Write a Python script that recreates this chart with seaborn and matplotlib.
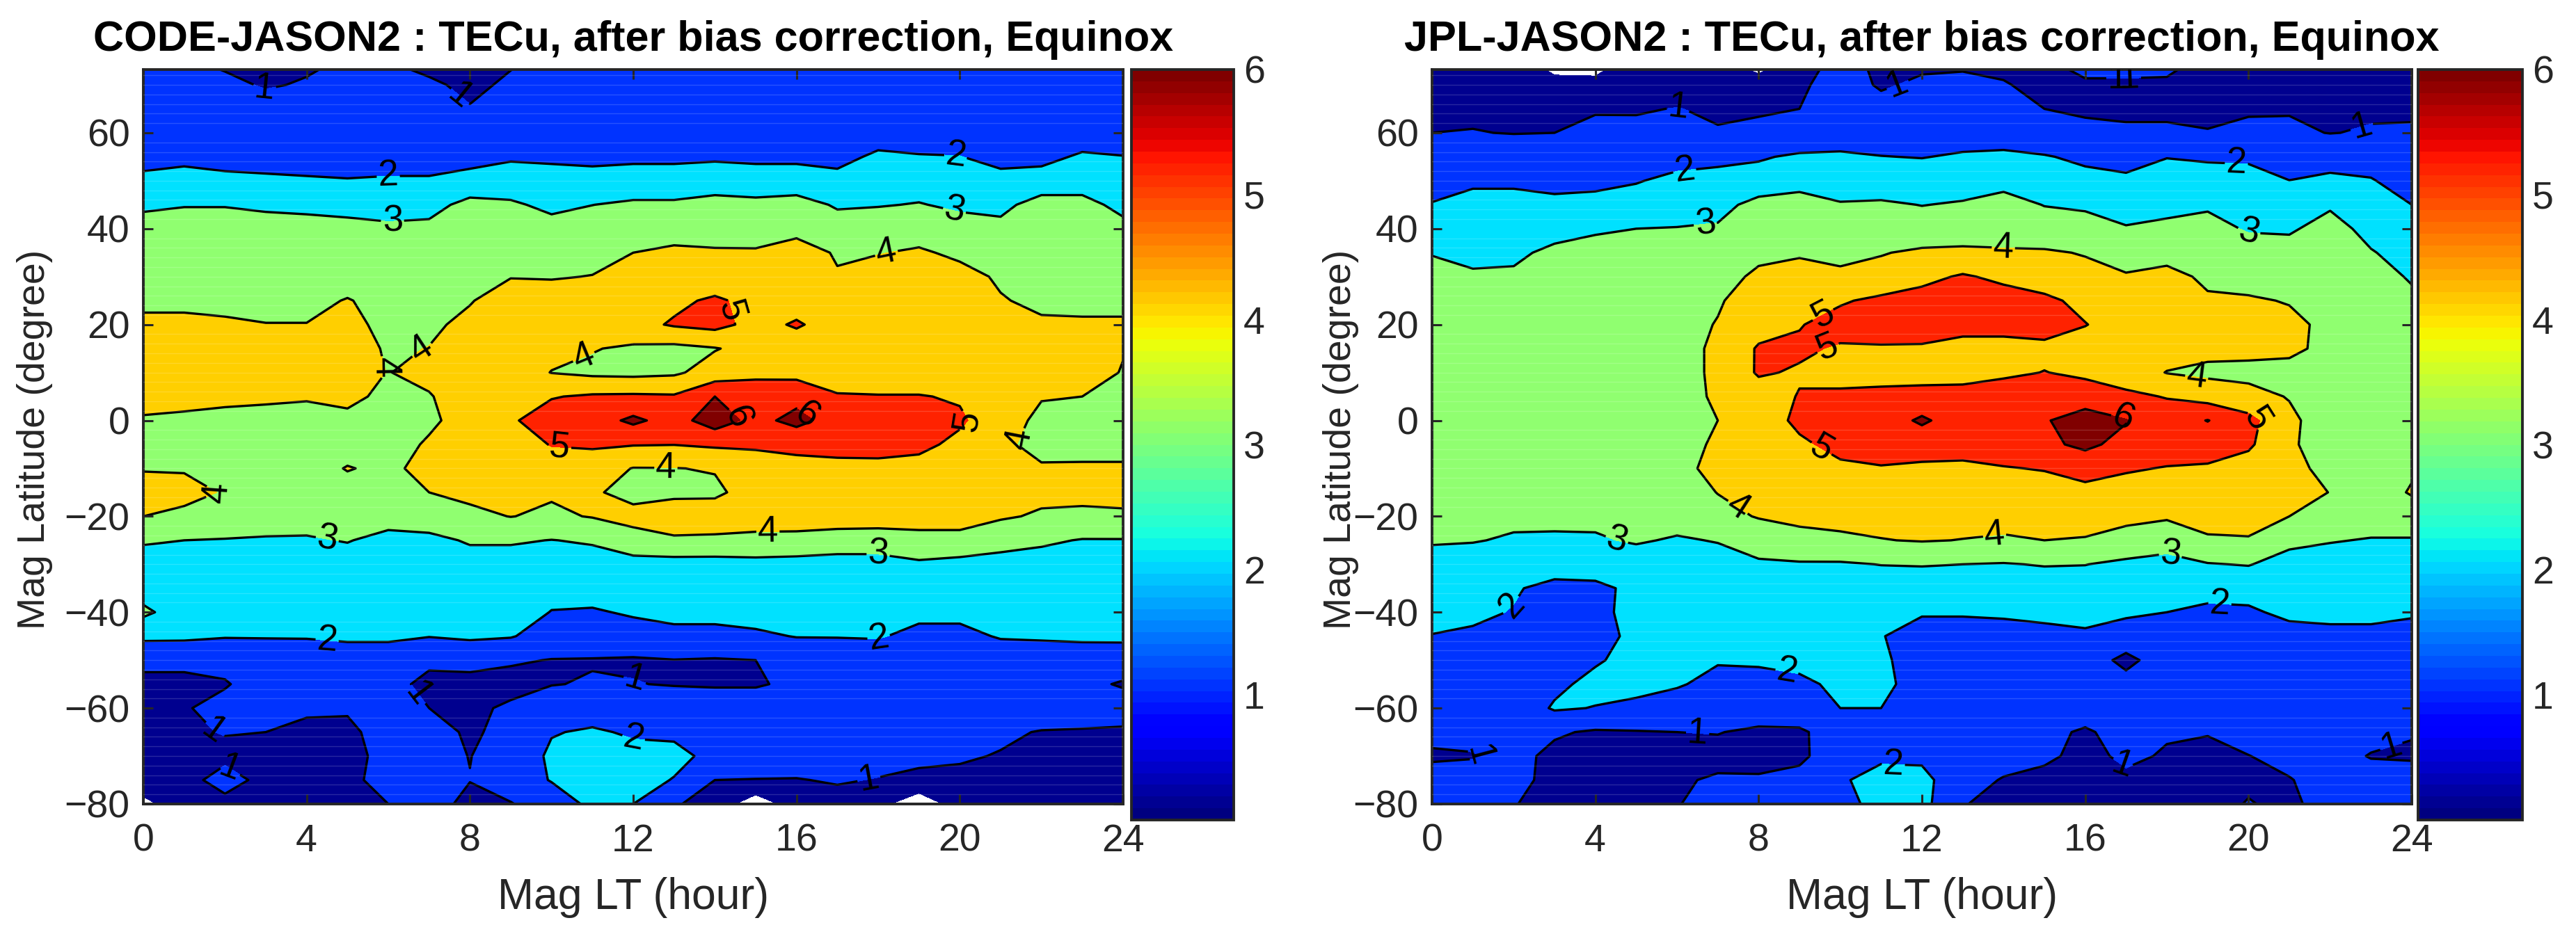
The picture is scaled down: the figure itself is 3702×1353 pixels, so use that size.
import numpy as np
import matplotlib
matplotlib.use("Agg")
import matplotlib.pyplot as plt
from matplotlib.cm import ScalarMappable
from matplotlib.colors import ListedColormap, BoundaryNorm
from matplotlib.ticker import MultipleLocator
import seaborn as sns

sns.set_style("white")
plt.rcParams['font.family'] = ['Liberation Sans', 'DejaVu Sans']

lt_hours = list(range(25))
mag_lat = [75, 70, 65, 60, 55, 50, 45, 40, 35, 30, 25, 20, 15, 10, 5, 0, -5, -10, -15, -20, -25, -30,
           -35, -40, -45, -50, -55, -60, -65, -70, -75, -80]

# one row per latitude (75 down to -80), one column per hour (0..24)
code_tec = [
    [1.3, 1.1, 0.8, 0.7, 0.8, 1.1, 1.0, 0.7, 0.6, 0.9, 1.2, 1.3, 1.3, 1.2, 0.8, 1.2, 1.3, 1.3, 1.3, 1.3, 1.3, 1.3, 1.3, 1.3, 1.3],
    [1.4, 1.4, 1.25, 0.9, 1.1, 1.4, 1.3, 1.15, 0.8, 1.15, 1.4, 1.4, 1.4, 1.4, 1.4, 1.4, 1.4, 1.4, 1.4, 1.4, 1.4, 1.4, 1.4, 1.4, 1.4],
    [1.5, 1.5, 1.5, 1.5, 1.5, 1.5, 1.45, 1.4, 1.05, 1.4, 1.5, 1.5, 1.5, 1.5, 1.5, 1.5, 1.5, 1.5, 1.5, 1.5, 1.5, 1.5, 1.5, 1.5, 1.5],
    [1.6, 1.6, 1.6, 1.6, 1.6, 1.6, 1.6, 1.6, 1.6, 1.6, 1.6, 1.6, 1.6, 1.6, 1.6, 1.6, 1.6, 1.6, 1.6, 1.6, 1.6, 1.6, 1.6, 1.6, 1.6],
    [1.7, 1.8, 1.7, 1.65, 1.6, 1.55, 1.6, 1.6, 1.75, 1.9, 1.85, 1.8, 1.85, 1.85, 1.9, 1.85, 1.85, 1.75, 2.15, 2.05, 2.02, 1.75, 1.8, 2.1, 2.02],
    [2.2, 2.3, 2.2, 2.15, 2.1, 2.05, 2.1, 2.1, 2.25, 2.4, 2.35, 2.3, 2.35, 2.35, 2.4, 2.35, 2.35, 2.25, 2.65, 2.55, 2.5, 2.25, 2.3, 2.6, 2.5],
    [2.82, 2.94, 2.94, 2.82, 2.76, 2.68, 2.58, 2.64, 3.32, 3.15, 2.76, 2.99, 3.16, 3.16, 3.4, 3.28, 3.43, 2.88, 2.94, 3.05, 2.82, 2.7, 3.47, 3.27, 2.76],
    [3.42, 3.54, 3.54, 3.42, 3.36, 3.28, 3.18, 3.24, 3.5, 3.45, 3.36, 3.45, 3.5, 3.55, 3.6, 3.55, 3.7, 3.48, 3.6, 3.65, 3.42, 3.3, 3.45, 3.4, 3.24],
    [3.5, 3.6, 3.6, 3.5, 3.45, 3.4, 3.35, 3.4, 3.7, 3.65, 3.6, 3.75, 4.0, 4.2, 4.1, 4.1, 4.45, 3.9, 3.97, 4.1, 3.85, 3.6, 3.55, 3.5, 3.4],
    [3.6, 3.65, 3.65, 3.6, 3.6, 3.6, 3.55, 3.6, 3.85, 3.97, 3.95, 4.02, 4.35, 4.5, 4.4, 4.45, 4.5, 4.08, 4.3, 4.45, 4.25, 3.9, 3.65, 3.6, 3.55],
    [3.75, 3.8, 3.8, 3.75, 3.75, 4.05, 3.7, 3.75, 3.95, 4.4, 4.35, 4.4, 4.6, 4.8, 5.15, 4.7, 4.6, 4.5, 4.5, 4.45, 4.3, 4.05, 3.85, 3.8, 3.8],
    [4.25, 4.2, 4.1, 4.02, 4.02, 4.25, 3.75, 3.85, 4.2, 4.5, 4.5, 4.5, 4.7, 5.1, 5.3, 4.7, 5.1, 4.6, 4.5, 4.45, 4.4, 4.25, 4.1, 4.1, 4.1],
    [4.3, 4.3, 4.35, 4.3, 4.5, 4.4, 3.9, 4.02, 4.3, 4.4, 4.2, 4.05, 3.85, 3.75, 3.95, 4.3, 4.5, 4.5, 4.5, 4.5, 4.5, 4.5, 4.4, 4.4, 4.05],
    [4.4, 4.4, 4.4, 4.4, 4.4, 4.3, 3.98, 4.2, 4.4, 4.4, 3.98, 3.8, 3.75, 3.85, 4.4, 4.75, 4.7, 4.5, 4.4, 4.4, 4.4, 4.4, 4.4, 4.4, 3.95],
    [4.35, 4.25, 4.2, 4.15, 4.1, 4.2, 3.8, 3.95, 4.4, 4.5, 4.95, 5.12, 5.15, 5.1, 6.0, 5.6, 5.7, 5.08, 5.05, 5.05, 4.9, 4.5, 4.05, 4.0, 3.85],
    [3.9, 3.85, 3.75, 3.7, 3.6, 3.8, 3.5, 3.85, 4.35, 4.9, 5.4, 5.55, 6.2, 5.6, 6.5, 5.7, 6.3, 5.6, 5.5, 5.4, 5.15, 4.4, 3.8, 3.7, 3.6],
    [3.8, 3.75, 3.7, 3.6, 3.6, 3.6, 3.65, 4.1, 4.4, 4.5, 5.05, 5.15, 5.05, 5.02, 5.15, 5.15, 5.2, 5.25, 5.35, 5.25, 4.75, 4.2, 3.7, 3.6, 3.6],
    [3.97, 3.95, 3.9, 3.6, 3.6, 4.05, 3.8, 4.3, 4.5, 4.5, 4.5, 4.4, 3.97, 3.98, 4.05, 4.5, 4.75, 4.8, 4.75, 4.65, 4.35, 4.1, 4.1, 4.15, 4.15],
    [4.2, 4.2, 3.95, 3.6, 3.6, 3.65, 3.8, 4.0, 4.2, 4.3, 4.1, 4.1, 3.75, 3.85, 3.85, 4.35, 4.6, 4.6, 4.55, 4.5, 4.4, 4.35, 4.2, 4.2, 4.2],
    [4.0, 3.85, 3.7, 3.5, 3.4, 3.4, 3.4, 3.55, 3.8, 4.02, 3.85, 4.05, 4.25, 4.4, 4.45, 4.45, 4.5, 4.5, 4.45, 4.4, 4.4, 4.1, 3.9, 3.85, 3.9],
    [3.1, 3.0, 2.95, 2.9, 2.9, 3.05, 2.7, 2.75, 3.1, 3.1, 2.98, 3.1, 3.7, 3.9, 3.85, 3.75, 3.7, 3.55, 3.55, 3.7, 3.7, 3.4, 3.15, 2.95, 2.95],
    [2.6, 2.6, 2.6, 2.55, 2.5, 2.55, 2.3, 2.4, 2.6, 2.6, 2.6, 2.6, 2.6, 2.6, 2.6, 2.7, 2.65, 2.6, 2.6, 2.85, 2.7, 2.6, 2.6, 2.6, 2.6],
    [2.55, 2.55, 2.55, 2.55, 2.5, 2.5, 2.5, 2.5, 2.55, 2.5, 2.3, 2.3, 2.4, 2.45, 2.45, 2.45, 2.5, 2.5, 2.5, 2.45, 2.45, 2.5, 2.55, 2.55, 2.55],
    [3.2, 2.5, 2.45, 2.45, 2.45, 2.5, 2.5, 2.45, 2.5, 2.45, 1.97, 1.93, 2.08, 2.2, 2.2, 2.3, 2.4, 2.4, 2.45, 2.18, 2.18, 2.45, 2.5, 2.5, 2.5],
    [2.2, 2.18, 2.06, 2.06, 2.06, 2.16, 2.16, 2.03, 2.16, 2.06, 1.6, 1.6, 1.7, 1.8, 1.8, 1.87, 2.03, 2.03, 2.06, 1.8, 1.8, 2.06, 2.1, 2.15, 2.16],
    [1.2, 1.2, 1.2, 1.4, 1.5, 1.5, 1.5, 1.15, 1.2, 1.1, 0.97, 0.95, 0.9, 0.98, 0.93, 1.0, 1.4, 1.55, 1.55, 1.55, 1.55, 1.55, 1.55, 1.55, 1.55],
    [0.8, 0.8, 0.95, 1.3, 1.4, 1.4, 1.25, 0.8, 0.8, 0.7, 0.97, 1.06, 1.03, 0.95, 0.9, 0.9, 1.2, 1.4, 1.4, 1.4, 1.4, 1.4, 1.4, 1.25, 0.9],
    [0.8, 0.95, 1.2, 1.45, 1.1, 1.1, 1.3, 1.0, 0.8, 1.15, 1.5, 1.6, 1.6, 1.6, 1.6, 1.6, 1.6, 1.6, 1.6, 1.6, 1.6, 1.6, 1.6, 1.6, 1.5],
    [0.75, 0.85, 1.05, 1.0, 0.85, 0.8, 1.4, 1.4, 0.85, 1.3, 1.95, 2.1, 1.9, 1.8, 1.6, 1.5, 1.5, 1.5, 1.5, 1.5, 1.5, 1.15, 0.95, 0.9, 0.85],
    [0.7, 0.7, 0.75, 0.8, 0.7, 0.7, 1.3, 1.3, 0.98, 1.4, 2.15, 2.3, 2.25, 2.3, 1.7, 1.6, 1.6, 1.6, 1.4, 1.15, 1.1, 0.95, 0.8, 0.7, 0.7],
    [0.7, 0.65, 1.4, 0.7, 0.7, 0.8, 1.3, 1.4, 1.02, 1.5, 2.05, 2.5, 2.4, 1.95, 1.0, 0.97, 0.95, 1.1, 0.95, 0.85, 0.8, 0.7, 0.7, 0.65, 0.65],
    [-0.3, 0.6, 0.7, 0.6, 0.6, 0.8, 1.0, 1.3, 0.8, 0.95, 1.5, 2.2, 2.0, 1.1, 0.6, -0.6, 0.5, 0.6, 0.3, -0.7, 0.5, 0.6, 0.6, 0.6, 0.6],
]
jpl_tec = [
    [0.6, 0.6, 0.7, -1.0, -1.0, 0.6, 0.5, 0.2, -0.8, 0.5, 1.3, 0.8, 0.8, 0.8, 0.8, 0.9, 1.4, 1.4, 1.3, 0.8, 0.6, 0.6, 0.6, 0.6, 0.6],
    [0.7, 0.7, 0.7, 0.7, 0.6, 0.7, 0.7, 0.7, 0.7, 0.85, 1.4, 0.9, 1.15, 1.25, 1.05, 0.8, 0.85, 0.85, 0.85, 0.7, 0.7, 0.7, 0.7, 0.7, 0.7],
    [0.85, 0.85, 0.8, 0.85, 0.95, 0.95, 1.02, 0.9, 0.95, 1.0, 1.4, 1.3, 1.45, 1.45, 1.2, 1.0, 0.93, 0.9, 0.9, 0.85, 0.95, 0.95, 0.85, 0.9, 0.9],
    [1.0, 1.03, 0.97, 1.0, 1.15, 1.14, 1.2, 1.05, 1.1, 1.2, 1.55, 1.55, 1.6, 1.6, 1.5, 1.25, 1.12, 1.08, 1.08, 1.03, 1.1, 1.12, 0.98, 1.06, 1.08],
    [1.4, 1.55, 1.6, 1.5, 1.55, 1.7, 1.7, 1.8, 1.9, 2.15, 2.13, 2.02, 1.97, 2.1, 2.2, 2.07, 1.8, 1.7, 1.97, 1.88, 1.85, 1.55, 1.7, 1.6, 1.4],
    [1.6, 1.85, 1.85, 1.75, 1.8, 1.95, 2.2, 2.27, 2.4, 2.65, 2.65, 2.5, 2.47, 2.6, 2.7, 2.55, 2.3, 2.15, 2.45, 2.4, 2.35, 2.01, 2.15, 2.06, 1.6],
    [2.05, 2.3, 2.3, 2.2, 2.25, 2.35, 2.6, 2.7, 3.3, 3.4, 3.05, 3.12, 2.98, 3.08, 3.35, 2.97, 2.85, 2.7, 2.8, 2.9, 2.7, 2.6, 2.9, 2.6, 2.0],
    [2.45, 2.55, 2.55, 2.75, 2.93, 3.0, 3.03, 3.1, 3.5, 3.5, 3.45, 3.45, 3.4, 3.45, 3.6, 3.45, 3.4, 3.05, 3.15, 3.25, 2.93, 2.9, 3.3, 2.75, 2.35],
    [2.97, 2.8, 2.87, 3.15, 3.2, 3.25, 3.3, 3.35, 3.75, 3.9, 3.8, 3.95, 4.15, 4.2, 4.1, 4.1, 3.95, 3.75, 3.7, 3.55, 3.35, 3.3, 3.35, 3.05, 2.7],
    [3.2, 3.1, 3.1, 3.3, 3.4, 3.4, 3.4, 3.6, 4.2, 4.35, 4.15, 4.3, 4.75, 5.1, 4.8, 4.5, 4.25, 4.05, 4.25, 3.85, 3.65, 3.45, 3.35, 3.2, 2.95],
    [3.4, 3.35, 3.35, 3.45, 3.5, 3.55, 3.6, 3.9, 4.5, 4.6, 4.9, 5.2, 5.35, 5.5, 5.4, 5.2, 4.75, 4.5, 4.35, 4.1, 4.1, 3.95, 3.5, 3.35, 3.1],
    [3.45, 3.45, 3.45, 3.5, 3.55, 3.6, 3.65, 4.05, 4.6, 4.95, 5.35, 5.5, 5.55, 5.6, 5.5, 5.35, 5.03, 4.6, 4.5, 4.4, 4.35, 4.2, 3.8, 3.45, 3.2],
    [3.45, 3.45, 3.45, 3.5, 3.5, 3.55, 3.7, 4.15, 5.1, 5.15, 4.9, 4.9, 4.87, 4.4, 4.5, 4.8, 4.6, 4.5, 4.4, 4.25, 4.25, 4.2, 3.75, 3.5, 3.3],
    [3.4, 3.4, 3.4, 3.45, 3.45, 3.45, 3.6, 4.2, 5.1, 4.9, 4.6, 4.5, 4.6, 4.7, 4.85, 5.02, 4.85, 4.5, 3.97, 3.8, 3.75, 3.7, 3.5, 3.4, 3.3],
    [3.3, 3.3, 3.3, 3.3, 3.35, 3.35, 3.6, 4.15, 4.55, 5.05, 5.2, 5.35, 5.35, 5.3, 5.45, 5.6, 5.4, 5.2, 4.95, 4.6, 4.3, 3.95, 3.5, 3.4, 3.3],
    [3.25, 3.25, 3.25, 3.3, 3.3, 3.35, 3.5, 4.0, 4.5, 5.2, 5.4, 5.5, 6.15, 5.5, 5.5, 5.9, 6.55, 6.05, 5.5, 6.03, 5.3, 4.2, 3.5, 3.4, 3.3],
    [3.2, 3.2, 3.2, 3.25, 3.25, 3.3, 3.5, 4.2, 4.5, 4.85, 5.25, 5.35, 5.4, 5.4, 5.5, 5.8, 6.2, 5.7, 5.5, 5.4, 5.15, 4.15, 3.5, 3.4, 3.3],
    [3.15, 3.15, 3.15, 3.2, 3.2, 3.3, 3.7, 4.3, 4.5, 4.6, 4.85, 4.95, 4.85, 4.8, 4.95, 5.05, 5.4, 5.1, 4.95, 4.9, 4.6, 4.2, 3.8, 3.4, 3.85],
    [3.1, 3.1, 3.1, 3.1, 3.15, 3.2, 3.6, 4.02, 4.4, 4.45, 4.5, 4.55, 4.55, 4.55, 4.6, 4.6, 4.7, 4.6, 4.55, 4.55, 4.5, 4.35, 3.98, 3.4, 4.1],
    [3.05, 3.1, 3.2, 3.25, 3.2, 3.25, 3.4, 3.75, 4.05, 4.15, 4.25, 4.3, 4.3, 4.3, 4.3, 4.3, 4.3, 4.2, 4.1, 4.3, 4.25, 4.0, 3.5, 3.4, 3.4],
    [3.1, 3.05, 2.9, 2.85, 2.9, 3.1, 2.9, 3.05, 3.5, 3.8, 3.85, 3.97, 4.05, 3.98, 3.9, 4.0, 3.95, 3.7, 3.45, 3.9, 3.95, 3.25, 3.05, 2.95, 2.95],
    [2.6, 2.55, 2.55, 2.5, 2.55, 2.5, 2.45, 2.6, 2.85, 2.9, 2.9, 3.02, 3.05, 3.0, 2.95, 3.05, 3.02, 2.8, 2.65, 2.95, 3.05, 2.6, 2.6, 2.5, 2.5],
    [2.4, 2.4, 2.1, 1.7, 1.75, 2.25, 2.4, 2.5, 2.5, 2.5, 2.5, 2.5, 2.5, 2.5, 2.5, 2.5, 2.5, 2.45, 2.35, 2.25, 2.25, 2.4, 2.4, 2.4, 2.4],
    [2.3, 2.2, 1.95, 1.6, 1.75, 2.3, 2.45, 2.45, 2.45, 2.45, 2.4, 2.3, 2.1, 2.1, 2.15, 2.25, 2.3, 2.1, 2.0, 1.85, 1.9, 2.15, 2.2, 2.2, 2.1],
    [1.97, 1.85, 1.6, 1.5, 1.7, 2.2, 2.4, 2.4, 2.4, 2.4, 2.3, 2.05, 1.55, 1.55, 1.6, 1.7, 1.85, 1.7, 1.65, 1.55, 1.6, 1.75, 1.8, 1.8, 1.7],
    [1.5, 1.5, 1.45, 1.4, 1.9, 2.3, 2.3, 2.08, 2.1, 2.2, 2.3, 2.2, 1.45, 1.45, 1.45, 1.5, 1.6, 0.7, 1.6, 1.6, 1.55, 1.55, 1.55, 1.5, 1.5],
    [1.45, 1.4, 1.4, 1.8, 2.25, 2.2, 2.1, 1.7, 1.75, 1.85, 2.15, 2.35, 1.4, 1.4, 1.4, 1.4, 1.4, 1.4, 1.4, 1.4, 1.4, 1.4, 1.4, 1.4, 1.4],
    [1.4, 1.4, 1.4, 2.1, 1.97, 1.85, 1.5, 1.5, 1.5, 1.65, 2.0, 2.0, 1.4, 1.4, 1.4, 1.4, 1.4, 1.4, 1.4, 1.4, 1.4, 1.4, 1.4, 1.4, 1.4],
    [1.2, 1.25, 1.4, 1.1, 0.9, 0.95, 1.0, 1.03, 0.85, 0.85, 1.5, 1.6, 1.7, 1.6, 1.5, 1.2, 0.9, 1.3, 1.05, 1.03, 1.4, 1.5, 1.4, 1.3, 1.05],
    [0.9, 0.95, 1.25, 0.8, 0.7, 0.7, 0.75, 0.75, 0.7, 0.8, 1.6, 1.85, 1.8, 1.5, 1.3, 1.1, 0.85, 1.1, 0.95, 0.85, 0.98, 1.3, 1.35, 0.95, 0.9],
    [1.3, 1.35, 1.3, 0.7, 0.65, 0.7, 0.9, 1.1, 1.1, 1.3, 1.9, 2.3, 2.3, 1.3, 0.95, 0.85, 0.8, 0.9, 0.85, 0.8, 0.85, 0.95, 1.4, 1.4, 1.4],
    [1.5, 1.5, 1.05, 0.6, 0.6, 0.6, 0.95, 1.4, 1.4, 1.3, 1.7, 2.3, 2.3, 1.05, 0.7, 0.6, 0.6, 0.6, 0.6, 0.7, 1.05, 0.8, 1.4, 1.5, 1.5],
]

panel_titles = ["CODE-JASON2 : TECu, after bias correction, Equinox",
                "JPL-JASON2 : TECu, after bias correction, Equinox"]
fill_levels = [0, 1, 2, 3, 4, 5, 6, 7]
line_levels = [1, 2, 3, 4, 5, 6]
fill_colors = ["#00008f", "#0033ff", "#00e1ff", "#90ff70", "#ffcf00", "#ff2200", "#800000"]
x_ticks = [0, 4, 8, 12, 16, 20, 24]
y_ticks = [-80, -60, -40, -20, 0, 20, 40, 60]
cbar_ticks = [1, 2, 3, 4, 5, 6]

code_labels = [(3.0, 70), (7.7, 67), (1.7, -65), (2.1, -73), (6.9, -56), (12, -55), (17.8, -76),
               (6, 51), (19.9, 55), (4.5, -46), (18, -45), (12, -67),
               (6.1, 42), (19.9, 45), (4.5, -25), (18, -27),
               (18.2, 35), (6.8, 15), (5.9, 11), (1.8, -15), (10.8, 13), (12.8, -10), (15.3, -23), (21.5, -4),
               (14.5, 23), (10.2, -5.5), (20.3, -1),
               (14.7, 2), (16.2, 0.5)]
jpl_labels = [(6, 64), (11.5, 68), (16.8, 71), (17, 68), (22.8, 60.5), (6.5, -66), (1.2, -69), (17, -71), (23.5, -68),
              (6.2, 51), (19.7, 53), (2, -39), (8.7, -52), (19.3, -38), (11.3, -72),
              (6.7, 40.5), (20, 38), (4.5, -26), (18.1, -27.5),
              (14, 37), (18.7, 7), (7.5, -18), (13.8, -25.5),
              (9.7, 20), (9.7, 15), (9.5, -6.5), (20.2, 0),
              (16.9, 0)]

W, H = 3702, 1353
DARK = "#262626"
FS = 40


def box(x0, y0, x1, y1):
    return [x0 / W, 1 - y1 / H, (x1 - x0) / W, (y1 - y0) / H]


fig = plt.figure(figsize=(W / 100, H / 100), dpi=100)
fill_cmap = ListedColormap(fill_colors)
fill_norm = BoundaryNorm(fill_levels, fill_cmap.N)
# seaborn refuses the jet name, so the colour bar takes it from matplotlib
bar_cmap = matplotlib.colormaps["jet"].resampled(64)

panels = [(code_tec, code_labels, 206, 1614, 1626, 1773, 50),
          (jpl_tec, jpl_labels, 2058, 3466, 3475, 3625, 1927)]

for i, (tec, labels, x0, x1, cx0, cx1, ylab_x) in enumerate(panels):
    ax = fig.add_axes(box(x0, 100, x1, 1156))
    grid = np.array(tec)
    ax.contourf(lt_hours, mag_lat, grid, levels=fill_levels, cmap=fill_cmap, norm=fill_norm)
    lines = ax.contour(lt_hours, mag_lat, grid, levels=line_levels, colors='black', linewidths=2.4)
    ax.clabel(lines, manual=labels, inline=True, fmt='%d', fontsize=38, colors='black', inline_spacing=2)
    ax.set_xlim(0, 24)
    ax.set_ylim(-80, 73.2)
    ax.set_xticks(x_ticks)
    ax.set_yticks(y_ticks)
    # faint seams between the grid rows, as in the exported figure
    ax.yaxis.set_minor_locator(MultipleLocator(2))
    ax.grid(which='minor', axis='y', color='white', alpha=0.16, linewidth=1.0)
    ax.set_axisbelow(False)
    ax.tick_params(which='minor', length=0)
    ax.tick_params(which='major', direction='in', top=True, right=True, bottom=True, left=True,
                   length=10, width=2.2, color=DARK, labelcolor=DARK, labelsize=FS)
    ax.tick_params(axis='x', pad=20)
    ax.tick_params(axis='y', pad=14)
    for s in ax.spines.values():
        s.set_visible(True)
        s.set_color(DARK)
        s.set_linewidth(2.8)
    fig.text((x0 + x1) / 2 / W, 1 - 1290 / H, "Mag LT (hour)", ha='center', va='center',
             fontsize=45, color=DARK)
    fig.text(ylab_x / W, 1 - 632 / H, "Mag Latitude (degree)", rotation=90, ha='center', va='center',
             fontsize=FS, color=DARK)
    fig.text((x0 + x1) / 2 / W, 1 - 58 / H, panel_titles[i], ha='center', va='center',
             fontsize=44, fontweight='bold', color='black')

    cax = fig.add_axes(box(cx0, 100, cx1, 1179))
    sm = ScalarMappable(norm=plt.Normalize(0, 6), cmap=bar_cmap)
    cb = fig.colorbar(sm, cax=cax, ticks=cbar_ticks)
    cb.ax.tick_params(direction='in', length=10, width=2.2, color=DARK, labelcolor=DARK,
                      labelsize=FS, pad=10)
    cb.outline.set_edgecolor(DARK)
    cb.outline.set_linewidth(2.8)

fig.savefig("out.png", dpi=100, facecolor='white')
